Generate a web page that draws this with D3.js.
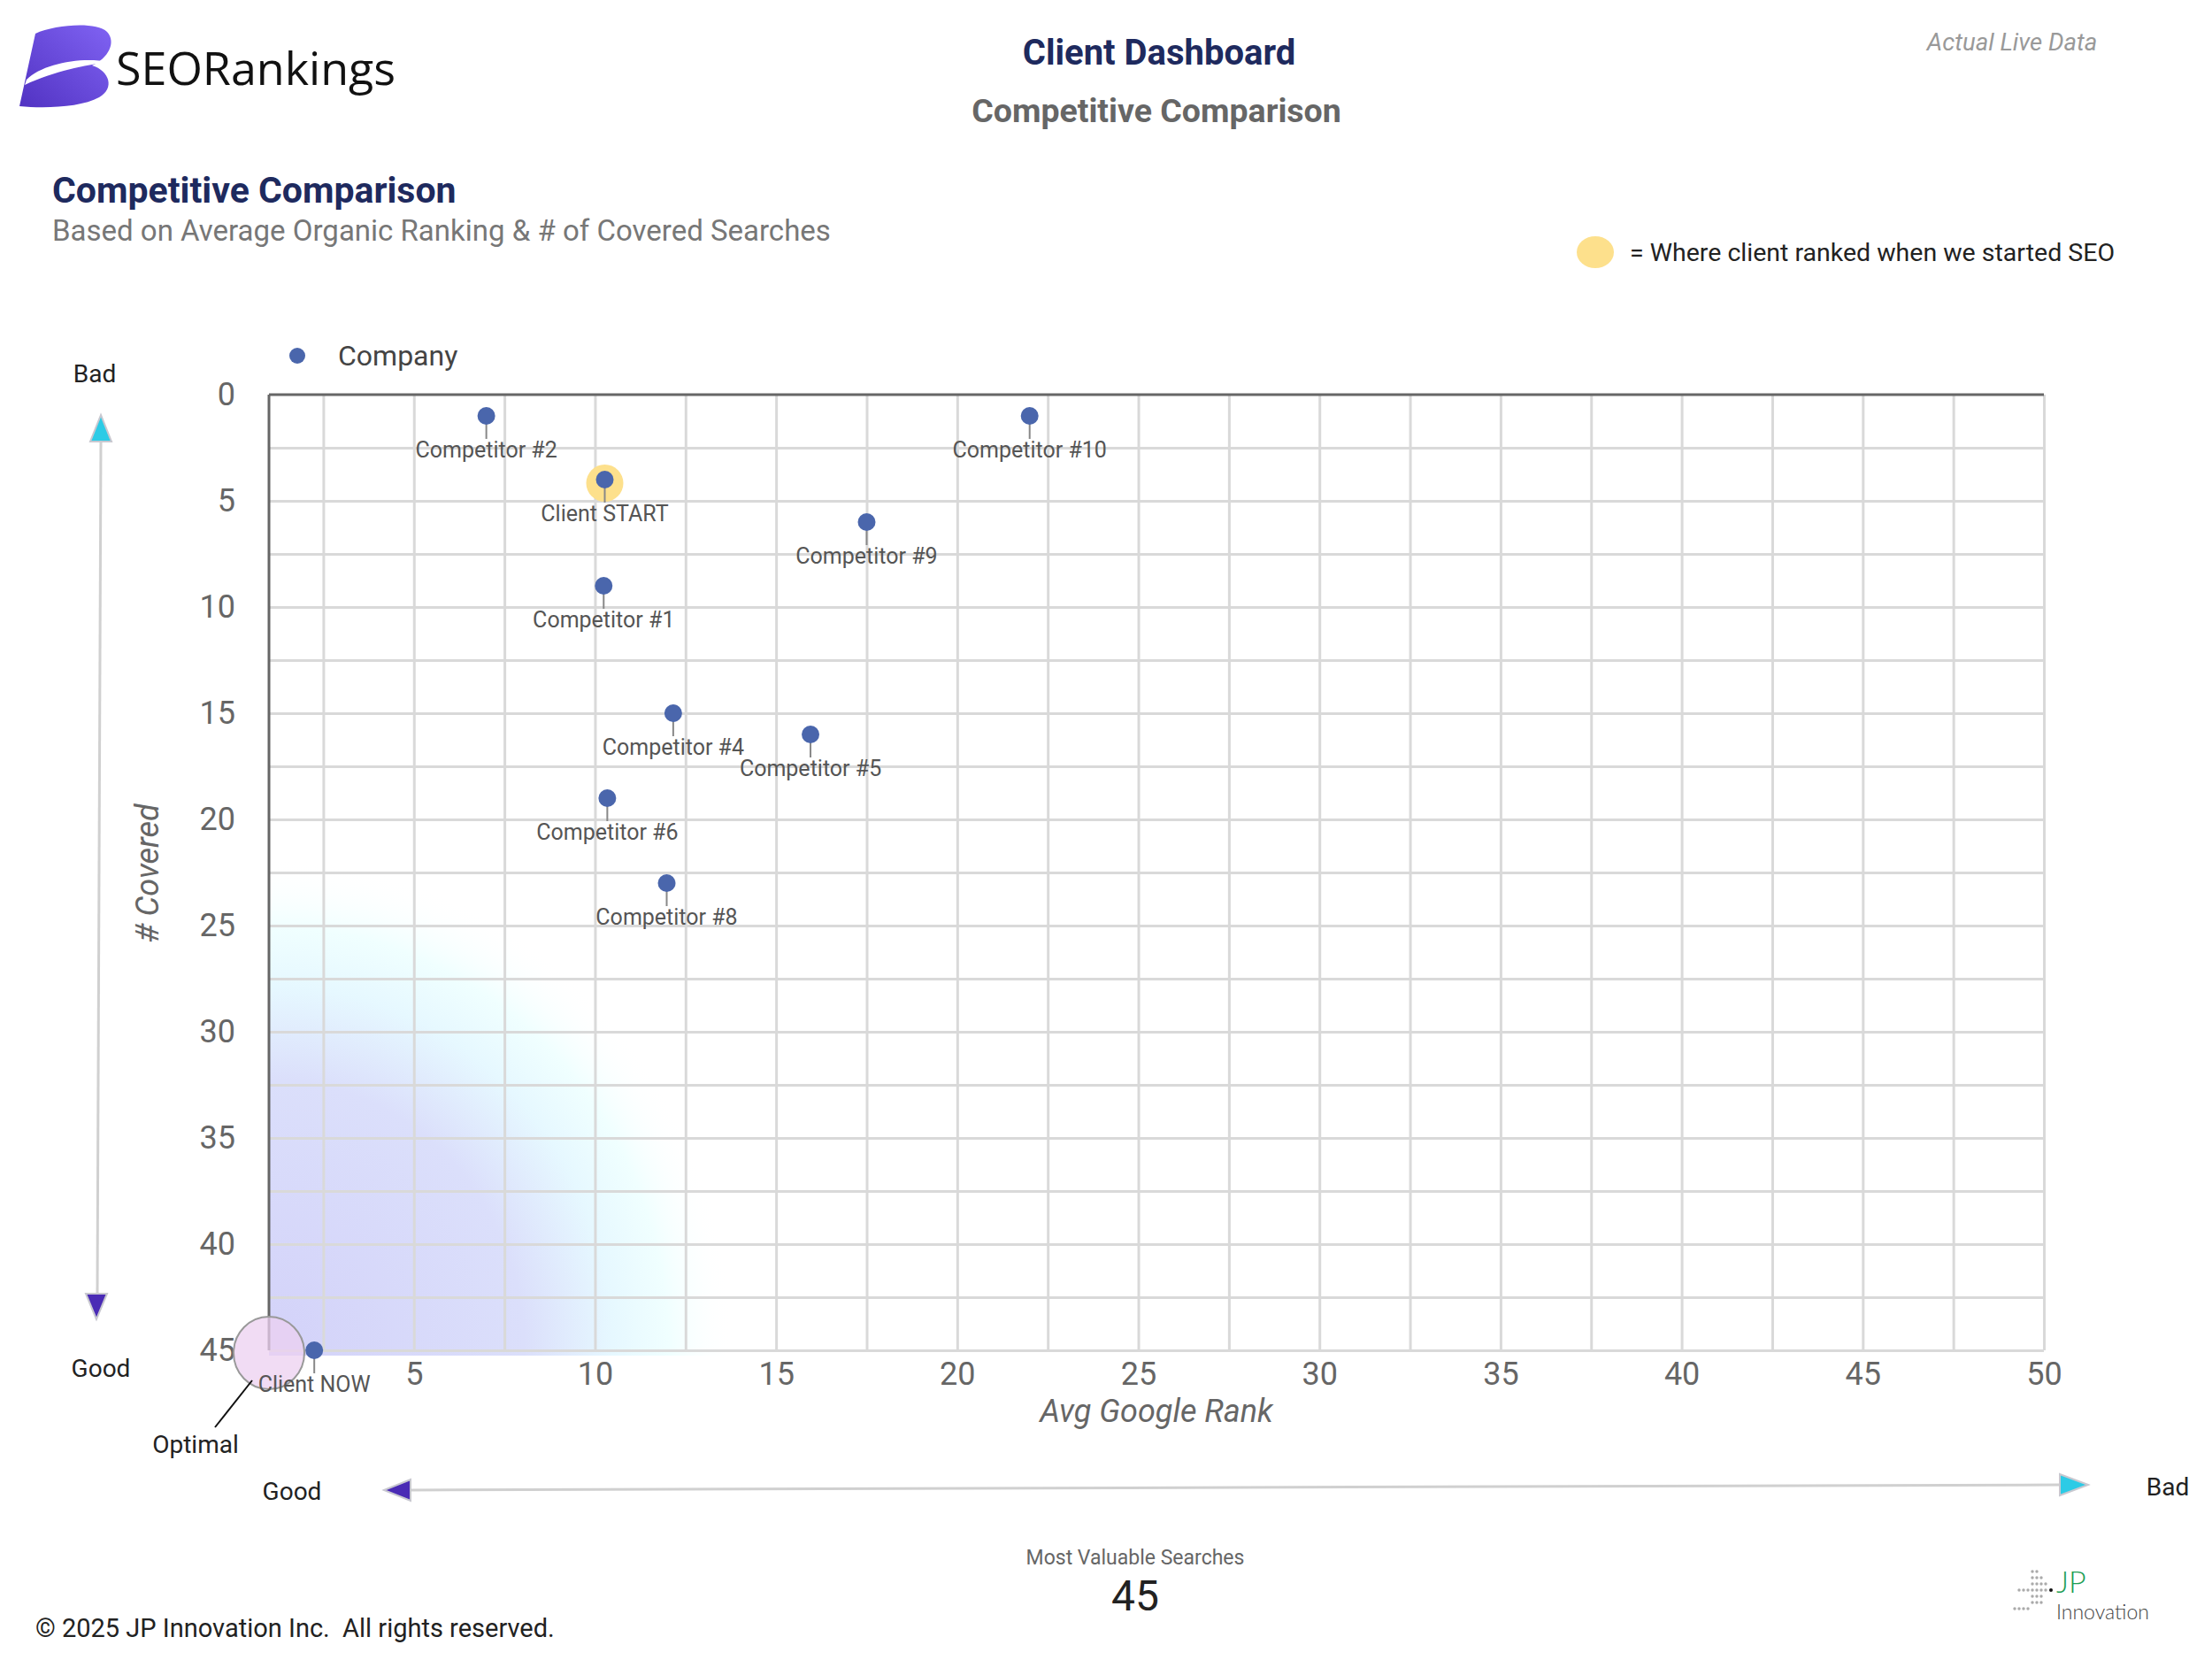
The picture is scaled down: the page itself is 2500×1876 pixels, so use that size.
<!DOCTYPE html>
<html>
<head>
<meta charset="UTF-8">
<title>Client Dashboard - Competitive Comparison</title>
<script src="https://cdn.jsdelivr.net/npm/d3@7"></script>
<style>
  body { margin: 0; background: #fff; }
  text { font-family: Roboto, "Noto Sans", sans-serif; }
</style>
</head>
<body>
<script>
// data
var companies = ["Competitor #2", "Client START", "Competitor #10", "Competitor #9", "Competitor #1",
                 "Competitor #4", "Competitor #5", "Competitor #6", "Competitor #8", "Client NOW"];
var avgRank = [7, 10.27, 22, 17.5, 10.24, 12.16, 15.95, 10.34, 11.98, 2.25];
var covered = [1, 4, 1, 6, 9, 15, 16, 19, 23, 45];
var xTicks = [5, 10, 15, 20, 25, 30, 35, 40, 45, 50];
var yTicks = [0, 5, 10, 15, 20, 25, 30, 35, 40, 45];
var mostValuable = 45;

var W = 2500, H = 1876;
var L = 304, R = 2310, T = 446, B = 1526;

var svg = d3.select("body").append("svg")
    .attr("width", W)
    .attr("height", H);

var defs = svg.append("defs");

var x = d3.scaleLinear().domain([1, 50]).range([L, R]);
var y = d3.scaleLinear().domain([0, 45]).range([T, B]);

// ---- header ----
var lg = defs.append("linearGradient").attr("id", "logoGrad")
    .attr("x1", "100%").attr("y1", "0%").attr("x2", "0%").attr("y2", "100%");
lg.append("stop").attr("offset", "0%").attr("stop-color", "#8063f3");
lg.append("stop").attr("offset", "100%").attr("stop-color", "#5132c2");

var logo = svg.append("g");
logo.append("path")
    .attr("d", "M40,38 C62,28 108,24 121,36 C132,48 122,66 104,74 C124,80 130,100 112,110 C92,121 52,123 22,120 Z")
    .attr("fill", "url(#logoGrad)");
logo.append("path")
    .attr("d", "M30,90 C48,72 92,64 122,70 C96,74 62,80 28,96 Z")
    .attr("fill", "#fff");
svg.append("text").attr("x", 131).attr("y", 96)
    .style("font-family", "'Open Sans', sans-serif")
    .style("font-size", "52px").attr("fill", "#111").text("SEORankings");

svg.append("text").attr("x", 1310).attr("y", 59).attr("text-anchor", "middle")
    .attr("dy", "0.35em").style("font-size", "40px").style("font-weight", "bold")
    .attr("fill", "#1e2a5e").text("Client Dashboard");
svg.append("text").attr("x", 1307).attr("y", 125).attr("text-anchor", "middle")
    .attr("dy", "0.35em").style("font-size", "37.5px").style("font-weight", "bold")
    .attr("fill", "#666").text("Competitive Comparison");
svg.append("text").attr("x", 2274).attr("y", 47).attr("text-anchor", "middle")
    .attr("dy", "0.35em").style("font-size", "27.5px").style("font-style", "italic")
    .attr("fill", "#999").text("Actual Live Data");

svg.append("text").attr("x", 59).attr("y", 229)
    .style("font-size", "41px").style("font-weight", "bold")
    .attr("fill", "#1e2a5e").text("Competitive Comparison");
svg.append("text").attr("x", 59).attr("y", 272)
    .style("font-size", "33px").attr("fill", "#777")
    .text("Based on Average Organic Ranking & # of Covered Searches");

// start legend
svg.append("ellipse").attr("cx", 1803).attr("cy", 285).attr("rx", 21).attr("ry", 18)
    .attr("fill", "#fde08c");
svg.append("text").attr("x", 1842).attr("y", 285).attr("dy", "0.35em")
    .style("font-size", "28.5px").attr("fill", "#222")
    .text("= Where client ranked when we started SEO");

// series legend
svg.append("circle").attr("cx", 336).attr("cy", 402).attr("r", 9).attr("fill", "#4a66ac");
svg.append("text").attr("x", 382).attr("y", 402).attr("dy", "0.35em")
    .style("font-size", "32px").attr("fill", "#444").text("Company");

// ---- plot background gradient (optimal zone) ----
var rg = defs.append("radialGradient").attr("id", "optGrad")
    .attr("gradientUnits", "userSpaceOnUse")
    .attr("cx", L).attr("cy", B).attr("r", 525)
    .attr("gradientTransform", "translate(" + L + "," + B + ") scale(1,1.06) translate(" + (-L) + "," + (-B) + ")");
rg.append("stop").attr("offset", "0%").attr("stop-color", "#d3d2f9");
rg.append("stop").attr("offset", "55%").attr("stop-color", "#dbdffb");
rg.append("stop").attr("offset", "74%").attr("stop-color", "#e6f8ff");
rg.append("stop").attr("offset", "86%").attr("stop-color", "#f0ffff");
rg.append("stop").attr("offset", "100%").attr("stop-color", "#ffffff").attr("stop-opacity", 0);

svg.append("rect").attr("x", L).attr("y", T).attr("width", R - L).attr("height", B - T + 6)
    .attr("fill", "url(#optGrad)");

// ---- grid ----
var gridX = d3.range(2.5, 50.01, 2.5);
var gridY = d3.range(2.5, 45.01, 2.5);

var gx = svg.append("g").attr("transform", "translate(0," + B + ")")
    .call(d3.axisBottom(x).tickValues(gridX).tickSize(-(B - T)).tickFormat(""));
gx.select(".domain").remove();
var gy = svg.append("g").attr("transform", "translate(" + L + ",0)")
    .call(d3.axisLeft(y).tickValues(gridY).tickSize(-(R - L)).tickFormat(""));
gy.select(".domain").remove();
svg.selectAll(".tick line").attr("stroke", "#d9d9d9").attr("stroke-width", 3);

// dark frame on top and left
svg.append("line").attr("x1", L).attr("x2", R).attr("y1", T).attr("y2", T)
    .attr("stroke", "#666").attr("stroke-width", 3);
svg.append("line").attr("x1", L).attr("x2", L).attr("y1", T).attr("y2", B)
    .attr("stroke", "#666").attr("stroke-width", 3);

// ---- tick labels ----
var ay = svg.append("g").attr("transform", "translate(" + L + ",0)")
    .call(d3.axisLeft(y).tickValues(yTicks).tickSize(0).tickPadding(38));
ay.select(".domain").remove();
ay.selectAll("text").style("font-size", "36px").attr("fill", "#666").style("font-family", "Roboto");

var ax = svg.append("g").attr("transform", "translate(0," + B + ")")
    .call(d3.axisBottom(x).tickValues(xTicks).tickSize(0).tickPadding(13));
ax.select(".domain").remove();
ax.selectAll("text").style("font-size", "36px").attr("fill", "#666").style("font-family", "Roboto");

svg.append("text").attr("x", 1307).attr("y", 1594).attr("text-anchor", "middle").attr("dy", "0.35em")
    .style("font-size", "36px").style("font-style", "italic").attr("fill", "#666")
    .text("Avg Google Rank");
svg.append("text").attr("transform", "translate(166,987) rotate(-90)")
    .attr("text-anchor", "middle").attr("dy", "0.35em")
    .style("font-size", "36px").style("font-style", "italic").attr("fill", "#666")
    .text("# Covered");

// ---- optimal marker ----
svg.append("ellipse").attr("cx", L).attr("cy", B + 3).attr("rx", 40).attr("ry", 41)
    .attr("fill", "rgba(236,208,240,0.75)").attr("stroke", "#999").attr("stroke-width", 2);
svg.append("line").attr("x1", 285).attr("y1", 1560).attr("x2", 243).attr("y2", 1613)
    .attr("stroke", "#111").attr("stroke-width", 2);
svg.append("text").attr("x", 221).attr("y", 1632).attr("text-anchor", "middle").attr("dy", "0.35em")
    .style("font-size", "28px").attr("fill", "#222").text("Optimal");

// ---- points ----
var pts = companies.map(function (c, i) {
    return { name: c, rank: avgRank[i], cov: covered[i] };
});

svg.selectAll(".halo")
    .data(pts.filter(function (d) { return d.name === "Client START"; }))
    .enter().append("circle")
    .attr("class", "halo")
    .attr("cx", function (d) { return x(d.rank); })
    .attr("cy", function (d) { return y(d.cov) + 4; })
    .attr("r", 21)
    .attr("fill", "#fde08c");

var node = svg.selectAll(".node")
    .data(pts)
    .enter().append("g")
    .attr("class", "node")
    .attr("transform", function (d) {
        return "translate(" + x(d.rank) + "," + y(d.cov) + ")";
    });

node.append("line")
    .attr("x1", 0).attr("x2", 0).attr("y1", 0).attr("y2", 26)
    .attr("stroke", "#888").attr("stroke-width", 2);

node.append("circle")
    .attr("r", 10)
    .attr("fill", "#4a66ac");

node.append("text")
    .attr("y", 38)
    .attr("dy", "0.35em")
    .attr("text-anchor", "middle")
    .style("font-size", "25px")
    .attr("fill", "#555")
    .text(function (d) { return d.name; });

// ---- good / bad arrows ----
function arrowLine(x1, y1, x2, y2) {
    svg.append("line").attr("x1", x1).attr("y1", y1).attr("x2", x2).attr("y2", y2)
        .attr("stroke", "#d0d0d0").attr("stroke-width", 3);
}
function tri(points, fill) {
    svg.append("polygon").attr("points", points)
        .attr("fill", fill).attr("stroke", "#c8c8d0").attr("stroke-width", 2);
}
arrowLine(114, 499, 110, 1462);
tri("114,469 102,499 126,499", "#2ccbe6");
tri("109,1491 97,1462 121,1462", "#4a2bb5");
svg.append("text").attr("x", 107).attr("y", 422).attr("text-anchor", "middle").attr("dy", "0.35em")
    .style("font-size", "28px").attr("fill", "#222").text("Bad");
svg.append("text").attr("x", 114).attr("y", 1546).attr("text-anchor", "middle").attr("dy", "0.35em")
    .style("font-size", "28px").attr("fill", "#222").text("Good");

arrowLine(464, 1684, 2328, 1678);
tri("434,1684 464,1672 464,1696", "#4a2bb5");
tri("2360,1678 2328,1666 2328,1690", "#2ccbe6");
svg.append("text").attr("x", 330).attr("y", 1685).attr("text-anchor", "middle").attr("dy", "0.35em")
    .style("font-size", "28px").attr("fill", "#222").text("Good");
svg.append("text").attr("x", 2450).attr("y", 1680).attr("text-anchor", "middle").attr("dy", "0.35em")
    .style("font-size", "28px").attr("fill", "#222").text("Bad");

// ---- footer ----
svg.append("text").attr("x", 1283).attr("y", 1760).attr("text-anchor", "middle").attr("dy", "0.35em")
    .style("font-size", "23px").attr("fill", "#666").text("Most Valuable Searches");
svg.append("text").attr("x", 1283).attr("y", 1803).attr("text-anchor", "middle").attr("dy", "0.35em")
    .style("font-size", "48px").attr("fill", "#222").text(mostValuable);
svg.append("text").attr("x", 40).attr("y", 1840).attr("dy", "0.35em")
    .style("font-size", "29px").attr("fill", "#222")
    .text("\u00a9 2025 JP Innovation Inc.\u00a0\u00a0All rights reserved.");

// JP Innovation mark (dot staircase + wordmark)
var jp = svg.append("g").attr("transform", "translate(2277,1776)");
var dotRows = [[4, 5], [4, 6], [4, 7], [1, 7], [4, 6], [4, 6], [0, 3]];
dotRows.forEach(function (r, ri) {
    for (var c = r[0]; c <= r[1]; c++) {
        jp.append("circle").attr("cx", c * 5).attr("cy", ri * 7).attr("r", 1.7).attr("fill", "#aaa");
    }
});
jp.append("circle").attr("cx", 41).attr("cy", 21).attr("r", 2).attr("fill", "#111");
svg.append("text").attr("x", 2324).attr("y", 1800)
    .style("font-family", "Lato, sans-serif")
    .style("font-size", "34px").style("font-weight", 300).attr("fill", "#1e9e55").text("JP");
svg.append("text").attr("x", 2324).attr("y", 1830)
    .style("font-family", "Lato, sans-serif")
    .style("font-size", "23px").style("font-weight", 300).attr("fill", "#444").text("Innovation");
</script>
</body>
</html>
